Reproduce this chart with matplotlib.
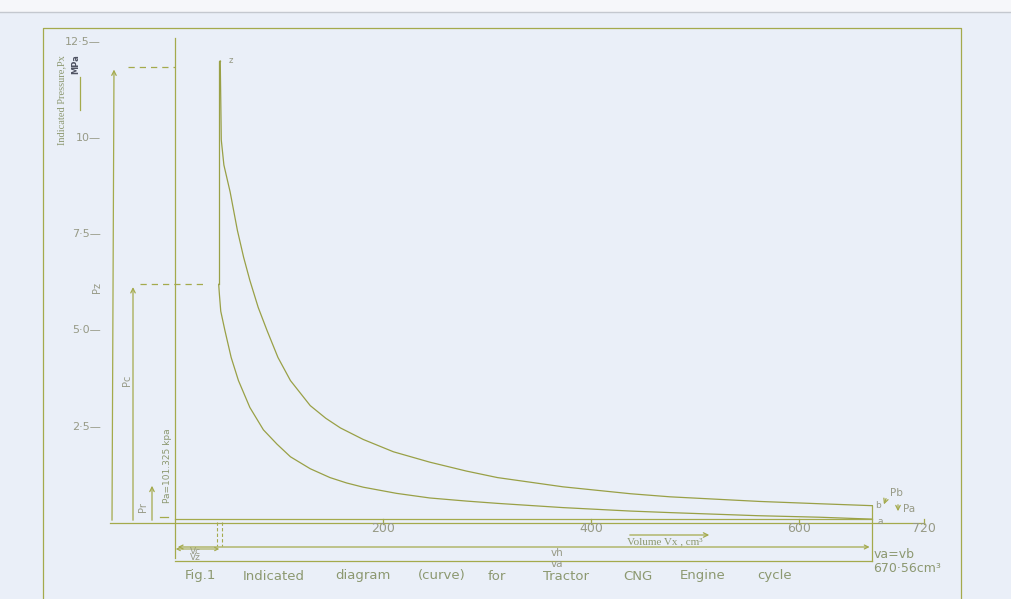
import matplotlib
matplotlib.use('Agg')
import matplotlib.pyplot as plt

# Tractor CNG engine indicated cycle (volume in cm3, pressure in MPa)
v_c = 42.0          # clearance volume
v_a = 670.56        # total cylinder volume, va = vb
p_z = 12.0          # peak combustion pressure
p_c = 6.2           # end of compression
p_a = 0.1           # 101.325 kPa

# compression line a-c (listed from c to a)
comp_v = [42, 42.8, 44, 48, 54, 61, 72, 85, 98, 111, 130, 149, 165, 181, 213,
          245, 280, 310, 373, 438, 476, 560, 620, 670.56]
comp_p = [6.2, 5.9, 5.5, 5.0, 4.3, 3.7, 3.0, 2.42, 2.05, 1.72, 1.41, 1.18,
          1.04, 0.93, 0.77, 0.65, 0.57, 0.51, 0.40, 0.31, 0.27, 0.19, 0.15, 0.10]

# expansion line z-b
exp_v = [43.5, 44.0, 44.5, 47, 53, 60, 66, 72, 80, 88.5, 99, 111, 130, 145,
         159, 181, 210, 245, 280, 310, 373, 438, 476, 562, 620, 670.56]
exp_p = [12.0, 11.0, 9.95, 9.3, 8.6, 7.6, 6.9, 6.3, 5.6, 5.0, 4.3, 3.7, 3.05,
         2.72, 2.47, 2.17, 1.85, 1.58, 1.35, 1.18, 0.94, 0.76, 0.68, 0.56,
         0.50, 0.45]

y_ticks = [12.5, 10.0, 7.5, 5.0, 2.5]
y_tick_labels = ['12·5', '10', '7·5', '5·0', '2·5']
x_ticks = [200, 400, 600, 720]
x_tick_labels = ['200', '400', '600', '720']

LINE = '#a4aa4c'
CURVE = '#99a046'
TEXT = '#979a86'
CAPT = '#8c9870'
PAPER = '#eaeff8'


# sheet position (pixels) -> diagram units
def xv(px):
    return (px - 175) / 1.04


def yp(py):
    return (523 - py) / 38.5


fig = plt.figure(figsize=(10.11, 5.99), dpi=100, facecolor=PAPER)
ax = fig.add_axes([0, 0, 1, 1])
ax.set_xlim(xv(0), xv(1011))
ax.set_ylim(yp(599), yp(0))
ax.axis('off')

kw = dict(color=LINE, lw=0.9)

# top edge of the sheet and the drawing frame
ax.axhspan(yp(12), yp(0), color='#f6f7fa', lw=0)
ax.plot([xv(0), xv(1011)], [yp(12), yp(12)], color='#c4c8cf', lw=1.0)
ax.plot([xv(43), xv(43), xv(961), xv(961)], [yp(599), yp(28), yp(28), yp(599)], **kw)

# the cycle
ax.plot(comp_v, comp_p, color=CURVE, lw=0.9)
ax.plot(exp_v, exp_p, color=CURVE, lw=0.9)
ax.plot([v_c, v_c, exp_v[0]], [p_c, p_z, exp_p[0]], color=CURVE, lw=0.9)
ax.plot([v_a, v_a], [exp_p[-1], yp(561)], **kw)
ax.plot([0, v_a], [p_a, p_a], **kw)
ax.plot([xv(110), x_ticks[-1]], [0, 0], **kw)
ax.plot([0, 0], [yp(558), yp(38)], **kw)

# pressure levels pz and pc
arr = dict(arrowstyle='->', color=LINE, lw=0.9, mutation_scale=8)
ax.annotate('', xy=(xv(114), p_z - 0.15), xytext=(xv(112), 0), arrowprops=arr)
ax.plot([xv(128), 0], [p_z - 0.15] * 2, color=LINE, lw=0.9, ls=(0, (5, 4)))
ax.annotate('', xy=(xv(133), p_c), xytext=(xv(133), 0), arrowprops=arr)
ax.plot([xv(140), xv(205)], [p_c, p_c], color=LINE, lw=0.9, ls=(0, (5, 4)))
ax.annotate('', xy=(xv(152), yp(483)), xytext=(xv(152), 0), arrowprops=arr)
ax.plot([xv(160), xv(168)], [yp(517)] * 2, **kw)

# y tick labels and axis title
for t, lab in zip(y_ticks, y_tick_labels):
    ax.text(xv(101), t, lab + '—', ha='right', va='center', fontsize=8,
            color=TEXT, family='DejaVu Sans')
ax.text(xv(62), yp(100), 'Indicated Pressure,Px', rotation=90, ha='center',
        va='center', fontsize=7.5, color=CAPT, family='Liberation Serif')
ax.text(xv(76), yp(64), 'MPa', rotation=90, ha='center', va='center',
        fontsize=6, color='#4e5262', weight='bold')
ax.plot([xv(80), xv(80)], [yp(77), yp(110)], **kw)

ax.text(xv(97), yp(288), 'Pz', rotation=90, ha='center', va='center',
        fontsize=7, color=TEXT)
ax.text(xv(127), yp(380), 'Pc', rotation=90, ha='center', va='center',
        fontsize=7, color=TEXT)
ax.text(xv(143), yp(507), 'Pr', rotation=90, ha='center', va='center',
        fontsize=7, color=TEXT)
ax.text(xv(167), yp(466), 'Pa=101.325 kpa', rotation=90, ha='center',
        va='center', fontsize=6.5, color=CAPT)
ax.text(exp_v[0] + 8, p_z, 'z', ha='left', va='center', fontsize=6, color=TEXT)

# x tick labels
for t, lab in zip(x_ticks, x_tick_labels):
    ax.plot([t, t], [yp(519), yp(524)], **kw)
    ax.text(t, yp(529), lab, ha='center', va='center', fontsize=9, color=TEXT)
ax.text(xv(627), yp(542), 'Volume Vx , cm³', ha='left', va='center',
        fontsize=8, color=CAPT, family='Liberation Serif')
ax.annotate('', xy=(xv(712), yp(535)), xytext=(xv(627), yp(535)), arrowprops=arr)

# volume dimensions
for x in (217, 222):
    ax.plot([xv(x), xv(x)], [yp(522), yp(546)], color=LINE, lw=0.8, ls=(0, (3, 2)))
ax.annotate('', xy=(xv(173), yp(549)), xytext=(xv(222), yp(549)),
            arrowprops=dict(arrowstyle='<->', color=LINE, lw=0.8, mutation_scale=6))
ax.text(xv(195), yp(551), 'Vc', ha='center', va='center', fontsize=6.5, color=TEXT)
ax.text(xv(195), yp(558), 'Vz', ha='center', va='center', fontsize=6.5, color=TEXT)
ax.annotate('', xy=(v_a, yp(547)), xytext=(0, yp(547)),
            arrowprops=dict(arrowstyle='<->', color=LINE, lw=0.9, mutation_scale=7))
ax.plot([0, v_a], [yp(561), yp(561)], **kw)
ax.text(xv(557), yp(553), 'vh', ha='center', va='center', fontsize=7.5, color=TEXT)
ax.text(xv(557), yp(564), 'va', ha='center', va='center', fontsize=7.5, color=TEXT)

# point labels at the end of the stroke
ax.text(v_a + 3, exp_p[-1], 'b', ha='left', va='center', fontsize=6.5, color=TEXT)
ax.text(v_a + 5, p_a - 0.05, 'a', ha='left', va='center', fontsize=6.5, color=TEXT)
ax.text(xv(890), yp(493), 'Pb', ha='left', va='center', fontsize=7.5, color=TEXT)
ax.annotate('', xy=(xv(883), yp(507)), xytext=(xv(887), yp(496)), arrowprops=arr)
ax.text(xv(903), yp(509), 'Pa', ha='left', va='center', fontsize=7.5, color=TEXT)
ax.annotate('', xy=(xv(898), yp(514)), xytext=(xv(898), yp(502)), arrowprops=arr)
ax.text(xv(874), yp(555), 'va=vb', ha='left', va='center', fontsize=9, color=CAPT)
ax.text(xv(873), yp(569), '670·56cm³', ha='left', va='center', fontsize=9, color=CAPT)

# figure caption
caption = [('Fig.1', 185), ('Indicated', 243), ('diagram', 335), ('(curve)', 418),
           ('for', 488), ('Tractor', 543), ('CNG', 623), ('Engine', 680), ('cycle', 757)]
for word, x in caption:
    ax.text(xv(x), yp(576), word, ha='left', va='center', fontsize=9.5, color=CAPT)

fig.savefig('out.png', dpi=100, facecolor=fig.get_facecolor())
